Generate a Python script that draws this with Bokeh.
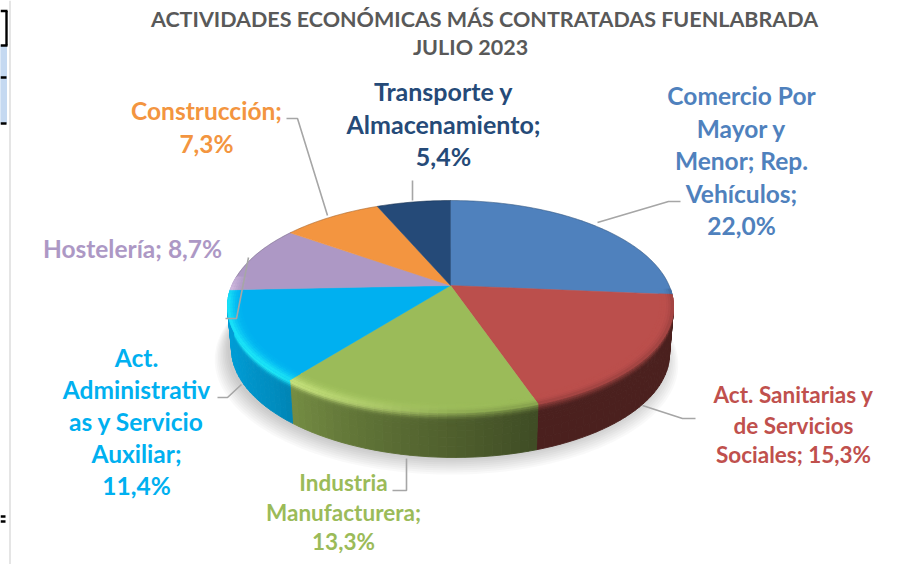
import numpy as np
from bokeh.plotting import figure
from bokeh.models import Range1d, ColumnDataSource
from bokeh.core.properties import value
from bokeh.embed import file_html
from bokeh.resources import INLINE

# ---- data ----
categories = ["Comercio Por Mayor y Menor; Rep. Vehículos", "Act. Sanitarias y de Servicios Sociales",
              "Industria Manufacturera", "Act. Administrativas y Servicio Auxiliar",
              "Hostelería", "Construcción", "Transporte y Almacenamiento"]
shares = [22.0, 15.3, 13.3, 11.4, 8.7, 7.3, 5.4]
colors = ["#4f81bd", "#bb4f4c", "#9bbb59", "#00b0f0", "#ad98c5", "#f39540", "#254a78"]
title_lines = ["ACTIVIDADES ECONÓMICAS MÁS CONTRATADAS FUENLABRADA", "JULIO 2023"]
label_lines = [
    ["Comercio Por", "Mayor y", "Menor; Rep.", "Vehículos;", "22,0%"],
    ["Act. Sanitarias y", "de Servicios", "Sociales; 15,3%"],
    ["Industria", "Manufacturera;", "13,3%"],
    ["Act.", "Administrativ", "as y Servicio", "Auxiliar;", "11,4%"],
    ["Hostelería; 8,7%"],
    ["Construcción;", "7,3%"],
    ["Transporte y", "Almacenamiento;", "5,4%"],
]
label_x = [741, 793, 343, 136, 132, 206, 443]
label_y = [[95, 128, 160, 193, 225], [394, 425, 454], [482, 512, 541],
           [357, 389, 421, 453, 485], [248], [110, 143], [90, 123, 155]]
label_size = ["24.5px", "22.5px", "22.5px", "24.5px", "24.5px", "24.5px", "25px"]
leaders = [
    ([597, 668, 680], [222, 201, 201]),
    ([642, 682, 695], [405, 418, 418]),
    ([406, 406, 392], [458, 490, 490]),
    ([241, 227, 217], [384, 397, 397]),
    ([248, 236, 225], [257, 318, 318]),
    ([286, 297, 327], [118, 118, 215]),
    ([412, 412], [180, 200]),
]

# ---- pie geometry (perspective disc) ----
CX, CY, A, B, K, DEPTH = 450.0, 285.0, 218.6, 101.8, 0.198, 45.0

def project(theta, r=1.0, z=0.0):
    t = np.radians(theta)
    u, v = r * np.sin(t), r * np.cos(t)
    d = 1 + K * v
    x = CX + A * u / d
    y = CY - B * v / d
    x = CX + (x - CX) * (1 - 0.018 * z)
    y = y + (DEPTH + 2.5 * np.sin(t)) * z
    return x, y

def hex2rgb(h):
    return np.array([int(h[i:i + 2], 16) for i in (1, 3, 5)], float)

def rgb2hex(c):
    c = np.clip(np.round(c), 0, 255).astype(int)
    return "#%02x%02x%02x" % tuple(c)

def body(theta):
    # brightness of the side wall, lit from the left
    return np.interp(theta, [90, 160, 178, 200, 225, 245, 275], [0.40, 0.40, 0.50, 0.62, 0.80, 0.88, 0.90])

def hilite(theta):
    return np.interp(theta, [90, 165, 180, 195, 225, 262, 275], [0, 0, 0.1, 0.4, 0.8, 0.8, 0.3])

def smooth(a, b, s):
    t = np.clip((s - a) / (b - a), 0, 1)
    return t * t * (3 - 2 * t)

def shade(base, theta, s):
    # s < 0: on the face, s = 0: rim, s > 0: down the side wall
    c = base * (1 + (body(theta) - 1) * smooth(-0.1, 0.2, s))
    h = hilite(theta) * np.exp(-((s - 0.03) / 0.1) ** 2)
    target = np.clip(base * 1.22 + 38, 0, 255)
    c = c + (target - c) * h
    return rgb2hex(c)

edges = np.concatenate([[0], np.cumsum(shares)]) / np.sum(shares) * 360.0

p = figure(width=905, height=564, output_backend="svg", toolbar_location=None,
           x_range=Range1d(0, 905), y_range=Range1d(564, 0), min_border=0,
           margin=(0, 0, 0, 0))
p.axis.visible = False
p.grid.visible = False
p.outline_line_color = None
p.background_fill_color = "#ffffff"

# page remnants at the left edge
p.quad(left=[0], right=[6], top=[45], bottom=[123], color="#c5d9f1")
p.segment([0, 6, 0, 0, 0, 0, 0], [10.5, 10.5, 45, 77, 123, 516, 521],
          [7, 6, 7, 6, 6, 5, 5], [10.5, 45, 45, 77, 123, 516, 521], color="#000000", line_width=2.4)
p.segment([9.5], [0], [9.5], [564], color="#dcdcdc", line_width=1.5)

# soft shadow
th = np.linspace(0, 360, 181)
for g in range(9):
    x, y = project(th, 1.0 + 0.007 * g, 1.0)
    p.patch(x - 4, y + 1 + 0.9 * g, color="#000000", alpha=0.022, line_color=None)

# side wall, painted column by column
zs = np.array([0.0, 0.04, 0.08, 0.12, 0.16, 0.2, 0.25, 0.3, 0.4, 0.55, 0.75, 1.0])
rs = [0.94, 0.95, 0.96, 0.97, 0.98, 0.99, 1.0]
STEP = 2.0
xs, ys, fc = [], [], []
for i, base_hex in enumerate(colors):
    base = hex2rgb(base_hex)
    a0, a1 = max(edges[i], 92), min(edges[i + 1], 275)
    if a1 <= a0:
        continue
    n = max(1, int(np.ceil((a1 - a0) / STEP)))
    tt = np.linspace(a0, a1, n + 1)
    for t0, t1 in zip(tt[:-1], tt[1:]):
        tm = (t0 + t1) / 2
        for z0, z1 in zip(zs[:-1], zs[1:]):
            x0, y0 = project(t0, 1.0, z0)
            x1, y1 = project(t1, 1.0, z0)
            x2, y2 = project(t1, 1.0, z1)
            x3, y3 = project(t0, 1.0, z1)
            xs.append([x0, x1, x2, x3]); ys.append([y0, y1, y2, y3])
            fc.append(shade(base, tm, (z0 + z1) / 2))
p.patches(xs, ys, fill_color=fc, line_color=fc, line_width=0.9)

# top face slices
for i, c in enumerate(colors):
    tt = np.linspace(edges[i], edges[i + 1], max(3, int(edges[i + 1] - edges[i])))
    x, y = project(tt)
    p.patch(np.concatenate([[CX], x]), np.concatenate([[CY], y]), color=c, line_color=c, line_width=0.5)

# bevel on the face, blending into the wall
xs, ys, fc = [], [], []
for i, base_hex in enumerate(colors):
    base = hex2rgb(base_hex)
    a0, a1 = max(edges[i], 92), min(edges[i + 1], 275)
    if a1 <= a0:
        continue
    n = max(1, int(np.ceil((a1 - a0) / STEP)))
    tt = np.linspace(a0, a1, n + 1)
    for t0, t1 in zip(tt[:-1], tt[1:]):
        tm = (t0 + t1) / 2
        for r0, r1 in zip(rs[:-1], rs[1:]):
            x0, y0 = project(t0, r0)
            x1, y1 = project(t1, r0)
            x2, y2 = project(t1, r1)
            x3, y3 = project(t0, r1)
            xs.append([x0, x1, x2, x3]); ys.append([y0, y1, y2, y3])
            fc.append(shade(base, tm, ((r0 + r1) / 2 - 1) * 2.7))
p.patches(xs, ys, fill_color=fc, line_color=fc, line_width=0.9)

# back rim, slightly dark
x, y = project(np.linspace(275, 452, 120))
p.line(x, y, color="#000000", alpha=0.18, line_width=1)

# leader lines
p.multi_line([l[0] for l in leaders], [l[1] for l in leaders], line_color="#a6a6a6", line_width=1.6)

# labels
p.text([484], [18], text=[title_lines[0]], text_font=value("Lato"), text_font_style="bold",
       text_font_size="21.5px", text_color="#595959", text_align="center", text_baseline="middle")
p.text([470], [46], text=[title_lines[1]], text_font=value("Lato"), text_font_style="bold",
       text_font_size="21.5px", text_color="#595959", text_align="center", text_baseline="middle")
for i, lines in enumerate(label_lines):
    src = ColumnDataSource(dict(x=[label_x[i]] * len(lines), y=label_y[i], t=lines))
    p.text("x", "y", text="t", source=src, text_font=value("Lato"), text_font_style="bold",
           text_font_size=label_size[i], text_color=colors[i] if i != 1 else "#c0504d",
           text_align="center", text_baseline="middle")

open("out.html", "w").write(file_html(p, INLINE))
